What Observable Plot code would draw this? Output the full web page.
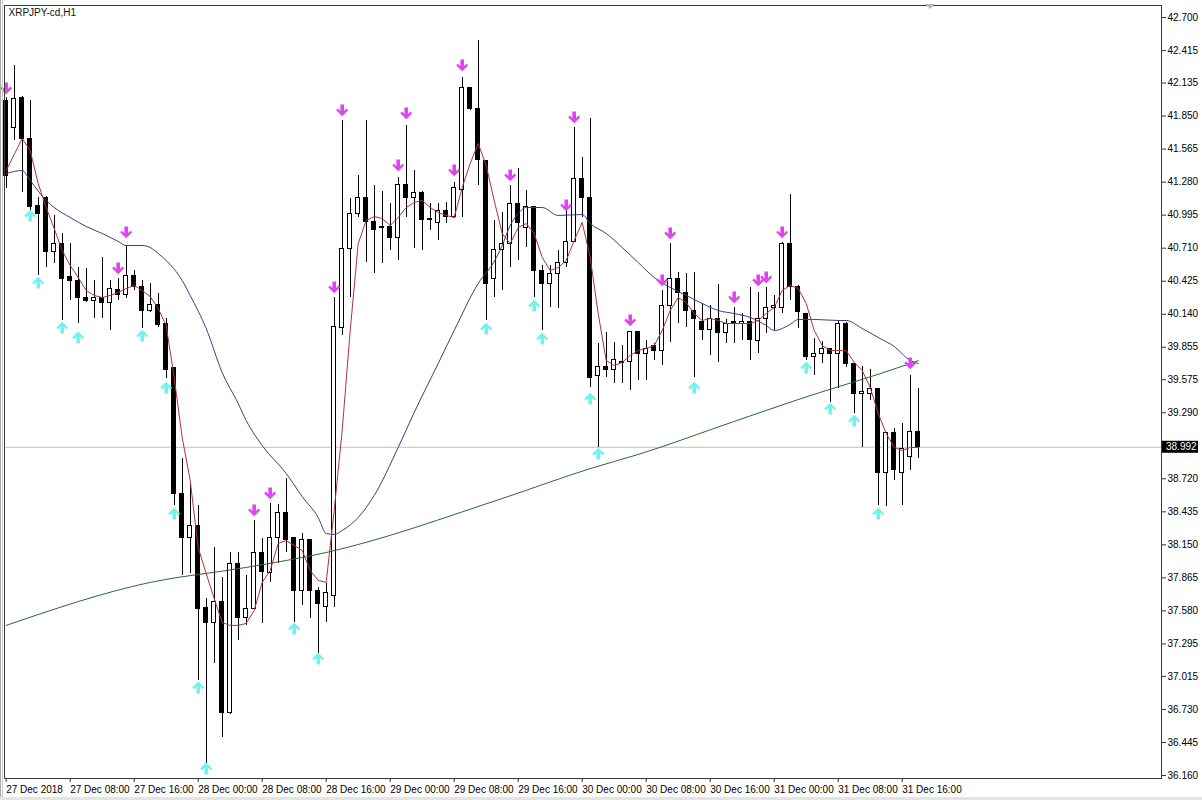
<!DOCTYPE html>
<html>
<head>
<meta charset="utf-8">
<script src="https://cdn.jsdelivr.net/npm/d3@7"></script>
<script src="https://cdn.jsdelivr.net/npm/@observablehq/plot@0.6"></script>
<style>
  html, body { margin: 0; padding: 0; background: #fff; }
  #wrap { position: relative; width: 1202px; height: 800px; overflow: hidden; }
  #wrap svg { position: absolute; left: 0; top: 0; }
  .edgeL { position: absolute; left: 0; top: 0; width: 1px; height: 800px; background: #a8a8a8; }
  .edgeL2 { position: absolute; left: 2px; top: 0; width: 1px; height: 800px; background: #c8c8c8; }
  .edgeB { position: absolute; left: 0; top: 797px; width: 1202px; height: 3px; background: #e4e4e4; }
  .shift { position: absolute; left: 925px; top: 4px; width: 0; height: 0;
           border-left: 5px solid transparent; border-right: 5px solid transparent; border-top: 5px solid #b8b8b8; }
</style>
</head>
<body>
<div id="wrap"></div>
<script>
// ---- chart data (XRPJPY-cd, H1, from 27 Dec 2018 00:00) ----
const symbolTitle = "XRPJPY-cd,H1";
const startUTC = Date.UTC(2018, 11, 27, 0);
const opens = [41.984,41.751,42.010,41.656,41.070,41.147,40.681,40.750,40.457,40.431,
  40.284,40.250,40.284,40.241,40.353,40.302,40.466,40.371,40.164,40.224,
  40.060,39.672,38.593,38.205,38.309,37.601,37.480,37.653,36.695,37.989,
  37.515,37.593,38.076,37.903,38.205,38.421,38.205,37.756,38.188,37.748,
  37.610,37.713,40.017,40.707,41.009,41.139,40.932,40.897,40.897,40.794,
  41.259,41.139,41.190,40.966,40.923,41.035,40.975,41.208,42.096,41.915,
  41.458,40.448,40.690,40.750,41.095,40.888,41.061,40.509,40.405,40.483,
  40.586,40.759,41.311,41.147,39.611,39.681,39.663,39.732,39.724,39.983,
  39.801,39.862,39.819,40.215,40.448,40.319,40.164,40.069,40.000,40.095,
  39.974,40.069,40.060,40.077,39.905,40.095,40.190,40.198,40.750,40.379,
  40.146,39.767,39.801,39.836,39.793,40.060,39.707,39.448,39.456,39.499,
  38.766,39.111,38.766,38.904,39.120];
const highs = [42.010,42.286,42.020,41.984,41.147,41.160,40.992,40.837,40.750,40.543,
  40.535,40.431,40.630,40.431,40.448,40.733,40.517,40.431,40.405,40.319,
  40.103,39.680,38.895,38.680,38.490,37.687,38.127,37.869,38.084,38.084,
  37.886,38.360,38.205,38.507,38.499,38.723,38.210,38.248,38.195,37.782,
  37.817,40.284,41.812,41.139,41.337,41.812,41.251,41.199,41.095,41.320,
  41.768,41.380,41.195,41.095,41.095,41.104,41.277,42.183,42.100,42.502,
  41.462,40.949,41.018,41.251,41.398,41.208,41.065,40.561,40.561,40.690,
  41.061,41.751,41.492,41.829,39.888,39.983,39.896,39.870,39.987,39.987,
  39.914,39.888,40.345,40.750,40.500,40.492,40.500,40.233,40.215,40.397,
  40.095,40.198,40.146,40.371,40.328,40.371,40.302,40.755,41.173,40.385,
  40.150,39.931,39.905,39.840,40.086,40.065,39.710,39.689,39.663,39.503,
  39.115,39.154,39.197,39.611,39.499];
const lows = [41.225,41.639,41.190,41.035,40.474,40.543,40.578,40.086,40.259,40.060,
  40.241,40.103,40.103,40.000,40.259,40.276,40.345,40.017,40.155,40.026,
  39.586,38.490,37.886,37.903,36.980,36.229,37.127,36.488,36.690,37.325,
  37.455,37.590,37.472,37.826,37.989,38.084,37.480,37.627,37.515,37.213,
  37.480,37.610,39.957,40.284,40.975,40.586,40.492,40.578,40.690,40.604,
  40.975,40.707,40.690,40.862,40.776,40.923,40.970,40.975,41.898,41.251,
  40.086,40.284,40.345,40.543,40.604,40.716,40.284,40.000,40.198,40.190,
  40.543,40.755,40.975,39.508,38.990,39.594,39.543,39.543,39.482,39.568,
  39.568,39.741,39.698,39.896,40.060,40.026,39.594,39.914,39.784,39.724,
  39.888,39.888,39.914,39.741,39.801,39.974,40.000,40.146,40.259,40.017,
  39.741,39.611,39.715,39.379,39.499,39.681,39.284,38.990,39.396,38.490,
  38.481,38.706,38.490,38.792,38.895];
const closes = [41.337,42.001,41.656,41.061,41.009,40.681,40.750,40.448,40.423,40.284,
  40.250,40.284,40.241,40.362,40.302,40.466,40.371,40.172,40.224,40.043,
  39.655,38.593,38.205,38.309,37.593,37.480,37.653,36.695,37.989,37.515,
  37.593,38.076,37.912,38.205,38.421,38.188,37.756,38.188,37.756,37.636,
  37.731,40.026,40.699,41.009,41.139,40.932,40.871,40.888,40.802,41.251,
  41.139,41.190,40.957,40.949,41.035,40.975,41.225,42.096,41.907,41.475,
  40.405,40.690,40.750,41.095,40.923,41.061,40.509,40.405,40.483,40.586,
  40.759,41.311,41.147,39.594,39.681,39.663,39.741,39.715,39.983,39.801,
  39.844,39.827,40.215,40.448,40.319,40.164,40.095,40.000,40.095,39.974,
  40.060,40.060,40.077,39.914,40.095,40.190,40.207,40.750,40.371,40.155,
  39.767,39.801,39.836,39.793,40.060,39.707,39.448,39.465,39.499,38.766,
  39.111,38.792,38.973,39.120,38.992];
const lastPrice = 38.992;

// fast moving average (red), one value per candle
const fastMA = [41.380,41.518,41.656,41.553,41.268,41.061,40.880,40.690,40.561,40.457,
  40.345,40.302,40.284,40.302,40.328,40.362,40.388,40.345,40.293,40.190,
  40.043,39.594,39.077,38.706,38.127,37.903,37.687,37.480,37.455,37.455,
  37.472,37.584,37.826,37.929,38.162,38.188,38.145,38.102,37.929,37.843,
  37.826,38.447,39.137,40.000,40.750,40.949,40.983,40.966,40.906,40.975,
  41.061,41.104,41.121,41.061,41.018,40.992,40.975,41.234,41.441,41.613,
  41.423,41.121,40.837,40.750,40.888,40.923,40.837,40.630,40.517,40.543,
  40.604,40.776,40.932,40.630,40.146,39.741,39.698,39.724,39.784,39.827,
  39.844,39.870,40.000,40.172,40.284,40.241,40.146,40.086,40.103,40.086,
  40.060,40.060,40.060,40.060,40.086,40.146,40.198,40.345,40.388,40.362,
  40.233,40.000,39.870,39.827,39.827,39.827,39.724,39.655,39.508,39.284,
  39.111,38.990,38.965,38.990,38.990];

// medium moving average (blue), read at these candle indices
const midIdx = [0,2,3,5,6,8,10,12,14,15,17,18,19,20,22,23,25,27,29,30,32,35,37,39,40,41,42,44,46,49,51,54,56,59,61,62,63,64,65,67,69,72,73,75,77,79,81,83,85,87,89,91,93,95,96,98,99,101,104,105,107,109,111,113,114];
const midMA = [41.354,41.380,41.294,41.121,41.061,40.975,40.897,40.837,40.768,40.733,40.733,40.716,40.664,40.604,40.431,40.302,40.017,39.637,39.370,39.223,39.007,38.766,38.567,38.386,38.248,38.240,38.274,38.386,38.576,38.990,39.292,39.715,40.000,40.405,40.595,40.733,40.906,41.009,41.061,41.061,40.992,41.001,40.923,40.837,40.716,40.586,40.457,40.371,40.302,40.233,40.172,40.146,40.112,40.043,40.000,40.052,40.095,40.095,40.086,40.086,40.017,39.939,39.862,39.741,39.715];

// slow moving average (green)
const slowIdx = [0,18,30,40,62,73,79,91,99,113,114];
const slowMA = [37.455,37.826,37.955,38.084,38.550,38.808,38.930,39.215,39.404,39.715,39.740];

// signal arrows
const sellIdx = [0,14,15,31,33,41,42,49,50,56,57,63,70,71,78,82,83,91,94,95,97,113];
const sellAt  = [42.088,40.535,40.845,38.447,38.593,40.371,41.898,41.423,41.872,41.380,42.286,41.337,41.078,41.838,40.086,40.431,40.837,40.284,40.431,40.457,40.845,39.715];
const buyIdx = [3,4,7,9,17,20,21,24,25,36,39,60,66,67,73,74,86,100,103,106,109];
const buyAt  = [40.992,40.414,40.026,39.940,39.957,39.508,38.421,36.920,36.221,37.429,37.170,40.017,40.215,39.931,39.413,38.938,39.508,39.681,39.327,39.223,38.421];

// axis ticks
const priceTicks = [42.700,42.415,42.135,41.850,41.565,41.280,40.995,40.710,40.425,40.140,39.855,39.575,39.290,38.720,38.435,38.150,37.865,37.580,37.295,37.015,36.730,36.445,36.160];
const timeTickHours = [0,8,16,24,32,40,48,56,64,72,80,88,96,104,112];
const timeTickLabels = ["27 Dec 2018","27 Dec 08:00","27 Dec 16:00","28 Dec 00:00","28 Dec 08:00","28 Dec 16:00","29 Dec 00:00","29 Dec 08:00","29 Dec 16:00","30 Dec 00:00","30 Dec 08:00","30 Dec 16:00","31 Dec 00:00","31 Dec 08:00","31 Dec 16:00"];

// ---- build tables ----
const HOUR = 3600e3;
const at = (h) => new Date(startUTC + h * HOUR);
const candles = opens.map((o, i) => ({date: at(i), open: o, high: highs[i], low: lows[i], close: closes[i]}));
const fast = fastMA.map((v, i) => ({date: at(i), v}));
const mid = midIdx.map((h, i) => ({date: at(h), v: midMA[i]}));
const slow = slowIdx.map((h, i) => ({date: at(h), v: slowMA[i]}));
const sells = sellIdx.map((h, i) => ({date: at(h), v: sellAt[i]}));
const buys = buyIdx.map((h, i) => ({date: at(h), v: buyAt[i]}));
const tickDates = timeTickHours.map(at);
const tickLabelOf = new Map(tickDates.map((d, i) => [+d, timeTickLabels[i]]));

const arrowDown = { draw(c) {
  c.moveTo(-1.8, -6); c.lineTo(1.8, -6); c.lineTo(1.8, 0.6); c.lineTo(4.3, -1.9);
  c.lineTo(6, -0.2); c.lineTo(0, 5.8); c.lineTo(-6, -0.2); c.lineTo(-4.3, -1.9);
  c.lineTo(-1.8, 0.6); c.closePath(); } };
const arrowUp = { draw(c) {
  c.moveTo(-1.8, 6); c.lineTo(1.8, 6); c.lineTo(1.8, -0.6); c.lineTo(4.3, 1.9);
  c.lineTo(6, 0.2); c.lineTo(0, -5.8); c.lineTo(-6, 0.2); c.lineTo(-4.3, 1.9);
  c.lineTo(-1.8, -0.6); c.closePath(); } };

const halfBody = 0.27 * HOUR;

const chart = Plot.plot({
  width: 1202,
  height: 800,
  marginLeft: 4,
  marginRight: 41,
  marginTop: 5,
  marginBottom: 22,
  style: {fontFamily: "'Liberation Sans', Arial, sans-serif", fontSize: "10px", background: "transparent", color: "#000", overflow: "visible"},
  x: {type: "utc", domain: [new Date(startUTC - 0.21 * HOUR), new Date(startUTC + 144.41 * HOUR)], axis: null},
  y: {domain: [36.134, 42.804], axis: null},
  marks: [
    Plot.ruleY([lastPrice], {stroke: "#c0c0c0", strokeWidth: 1}),
    Plot.ruleX(candles, {x: "date", y1: "low", y2: "high", stroke: "#000", strokeWidth: 1, shapeRendering: "crispEdges"}),
    Plot.rect(candles, {
      x1: d => new Date(+d.date - halfBody), x2: d => new Date(+d.date + halfBody),
      y1: "open", y2: "close",
      fill: d => d.close >= d.open ? "#ffffff" : "#000000",
      stroke: "#000", strokeWidth: 1, shapeRendering: "crispEdges"
    }),
    Plot.line(slow, {x: "date", y: "v", stroke: "#2d6a2d", strokeWidth: 1, curve: "monotone-x"}),
    Plot.line(mid, {x: "date", y: "v", stroke: "#3c3c8c", strokeWidth: 1, curve: "monotone-x"}),
    Plot.line(fast, {x: "date", y: "v", stroke: "#b03434", strokeWidth: 1}),
    Plot.dot(sells, {x: "date", y: "v", symbol: arrowDown, fill: "#dc46ec", stroke: null, r: 5}),
    Plot.dot(buys, {x: "date", y: "v", symbol: arrowUp, fill: "#74f0f0", stroke: null, r: 5}),
    Plot.text([symbolTitle], {frameAnchor: "top-left", dx: 4, dy: 3, textAnchor: "start", lineAnchor: "top", fontSize: 10, fill: "#111"}),
    Plot.frame({stroke: "#3a3a3a", strokeWidth: 1}),
    Plot.axisY({anchor: "right", ticks: priceTicks, tickFormat: d => d.toFixed(3), tickSize: 4, tickPadding: 2, label: null, stroke: "#333", fill: "#000"}),
    Plot.axisX({anchor: "bottom", ticks: tickDates, tickFormat: d => tickLabelOf.get(+d), tickSize: 4, tickPadding: 3, textAnchor: "start", label: null, stroke: "#333", fill: "#000"})
  ]
});

const wrap = document.getElementById("wrap");
wrap.appendChild(chart);

// current-price badge on the price axis
const yPix = chart.scale("y").apply(lastPrice);
const svg = d3.select(chart);
svg.append("rect").attr("x", 1162).attr("y", yPix - 6).attr("width", 36).attr("height", 12).attr("fill", "#000");
svg.append("text").attr("x", 1166).attr("y", yPix).attr("dy", "0.35em")
  .attr("text-anchor", "start")
  .attr("fill", "#fff").attr("font-size", 10).attr("font-family", "'Liberation Sans', Arial, sans-serif")
  .text(lastPrice.toFixed(3));

for (const cls of ["edgeL", "edgeL2", "edgeB", "shift"]) {
  const el = document.createElement("div"); el.className = cls; wrap.appendChild(el);
}
</script>
</body>
</html>
